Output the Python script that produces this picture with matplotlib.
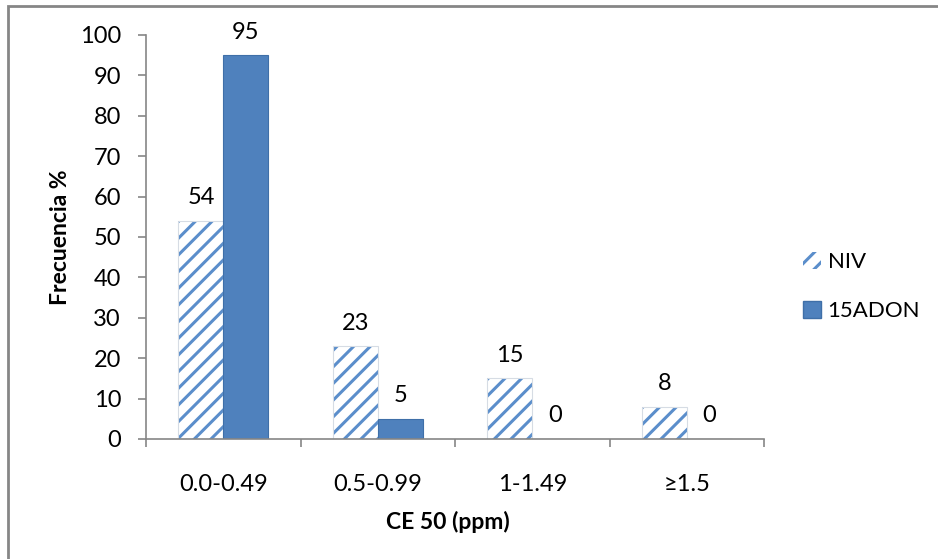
import matplotlib
matplotlib.use("Agg")
import matplotlib.pyplot as plt
import numpy as np
from matplotlib.patches import Rectangle, Patch

categories = ["0.0-0.49", "0.5-0.99", "1-1.49", "≥1.5"]
niv = [54, 23, 15, 8]
adon = [95, 5, 0, 0]
series_names = ["NIV", "15ADON"]
yticks = list(range(0, 101, 10))

plt.rcParams['font.family'] = ['Lato', 'DejaVu Sans']
plt.rcParams['hatch.linewidth'] = 2.2

fig = plt.figure(figsize=(9.38, 5.59), dpi=100)
ax = fig.add_axes([0.1557, 0.2147, 0.8145 - 0.1557, 0.9374 - 0.2147])

x = np.arange(len(categories))
w = 0.29
gray = '#868686'
blue = '#4F81BD'
hatch_blue = '#5B8ECB'

# hatched NIV bars: hatch uses edgecolor; outline drawn separately
ax.bar(x - w / 2, niv, w, facecolor='white', edgecolor=hatch_blue,
       hatch='//', linewidth=0)
ax.bar(x - w / 2, niv, w, fill=False, edgecolor='#D6DCE4', linewidth=0.8)
ax.bar(x + w / 2, adon, w, facecolor=blue, edgecolor='#3F6FA8',
       linewidth=0.8)

fs = 17
for xi, v in zip(x - w / 2, niv):
    ax.annotate(str(v), (xi, v), xytext=(0, 9), textcoords='offset points',
                ha='center', va='bottom', fontsize=fs)
for xi, v in zip(x + w / 2, adon):
    ax.annotate(str(v), (xi, v), xytext=(0, 9), textcoords='offset points',
                ha='center', va='bottom', fontsize=fs)

ax.set_xlim(-0.5, len(categories) - 0.5)
ax.set_ylim(0, 100)
ax.set_yticks(yticks)
ax.set_yticklabels([str(t) for t in yticks], fontsize=fs)
ax.set_xticks(x)
ax.set_xticklabels(categories, fontsize=fs)
ax.tick_params(axis='x', length=0, pad=25)
ax.set_xticks(np.arange(-0.5, len(categories)), minor=True)
ax.tick_params(axis='x', which='minor', length=6, color=gray, width=1.2)
ax.tick_params(axis='y', length=6, color=gray, width=1.2, pad=12)

for s in ['top', 'right']:
    ax.spines[s].set_visible(False)
for s in ['left', 'bottom']:
    ax.spines[s].set_color(gray)
    ax.spines[s].set_linewidth(1.2)

ax.set_ylabel("Frecuencia %", fontsize=16.5, fontweight='bold', labelpad=6)
ax.set_xlabel("CE 50 (ppm)", fontsize=16.5, fontweight='bold', labelpad=10)
ax.xaxis.set_label_coords(0.488, -0.178)

handles = [Patch(facecolor='white', edgecolor=hatch_blue, hatch='//', linewidth=0),
           Patch(facecolor=blue, edgecolor='#3F6FA8')]
fig.legend(handles, series_names, loc='center left',
           bbox_to_anchor=(0.835, 0.488), frameon=False, fontsize=16,
           handlelength=0.8, handleheight=0.8, handletextpad=0.3,
           labelspacing=1.3)

fig.patches.append(Rectangle((8 / 938, -0.1), 1.0, 1 - 6 / 559 + 0.1,
                             transform=fig.transFigure, fill=False,
                             edgecolor=gray, linewidth=2))

fig.savefig("out.png", dpi=100)
